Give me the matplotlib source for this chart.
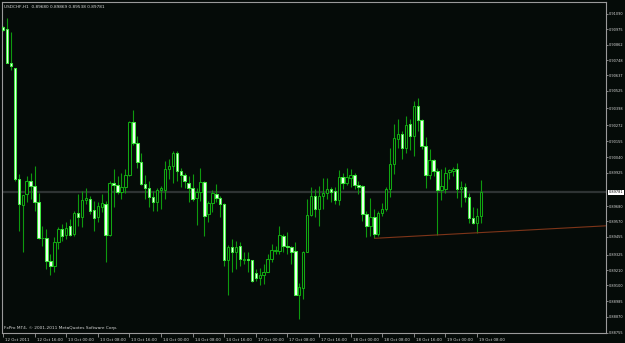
import numpy as np
import matplotlib
matplotlib.use('Agg')
import matplotlib.pyplot as plt
import matplotlib.transforms as mtransforms

# USDCHF H1 candles, 12 Oct 08:00 -> 19 Oct 09:00 (2011)
opens = [
    0.90991, 0.90976, 0.90728, 0.90692, 0.89878, 0.89688, 0.89768, 0.89866, 0.89829, 0.89714,
    0.89445, 0.89445, 0.89278, 0.89246, 0.89416, 0.89513, 0.89469, 0.89533, 0.89477, 0.89627,
    0.89603, 0.89724, 0.89732, 0.89654, 0.89598, 0.89678, 0.89695, 0.89469, 0.89849, 0.89836,
    0.89785, 0.89822, 0.89907, 0.90298, 0.90140, 0.90004, 0.89846, 0.89812, 0.89751, 0.89708,
    0.89800, 0.89800, 0.89956, 0.89975, 0.90072, 0.89938, 0.89907, 0.89853, 0.89817, 0.89737,
    0.89785, 0.89858, 0.89623, 0.89703, 0.89773, 0.89739, 0.89695, 0.89290, 0.89380, 0.89343,
    0.89392, 0.89290, 0.89295, 0.89283, 0.89190, 0.89156, 0.89178, 0.89202, 0.89295, 0.89355,
    0.89355, 0.89465, 0.89392, 0.89385, 0.89355, 0.89032, 0.89080, 0.89348, 0.89618, 0.89756,
    0.89659, 0.89756, 0.89776, 0.89805, 0.89788, 0.89727, 0.89897, 0.89853, 0.89883, 0.89909,
    0.89834, 0.89829, 0.89623, 0.89538, 0.89603, 0.89477, 0.89627, 0.89659, 0.89809, 0.89987,
    0.90174, 0.90206, 0.90109, 0.90279, 0.90194, 0.90412, 0.90308, 0.90121, 0.89909, 0.90019,
    0.89938, 0.89800, 0.89805, 0.89931, 0.89938, 0.89956, 0.89805, 0.89824, 0.89749, 0.89593,
    0.89557, 0.89606]
highs = [
    0.91000, 0.91059, 0.90959, 0.90692, 0.89914, 0.89761, 0.89902, 0.89926, 0.89975, 0.89780,
    0.89537, 0.89513, 0.89331, 0.89452, 0.89525, 0.89549, 0.89562, 0.89586, 0.89647, 0.89768,
    0.89793, 0.89817, 0.89756, 0.89720, 0.89708, 0.89768, 0.89720, 0.89866, 0.89955, 0.89902,
    0.89926, 0.89955, 0.90303, 0.90388, 0.90194, 0.90072, 0.89907, 0.89866, 0.89793, 0.89810,
    0.89829, 0.90011, 0.90029, 0.90084, 0.90084, 0.89963, 0.89921, 0.89902, 0.89914, 0.89817,
    0.89963, 0.89866, 0.89720, 0.89800, 0.89841, 0.89756, 0.89703, 0.89397, 0.89440, 0.89428,
    0.89416, 0.89343, 0.89348, 0.89287, 0.89222, 0.89227, 0.89258, 0.89331, 0.89404, 0.89392,
    0.89538, 0.89477, 0.89494, 0.89392, 0.89416, 0.89119, 0.89355, 0.89732, 0.89824, 0.89805,
    0.89829, 0.89883, 0.89883, 0.89824, 0.89824, 0.89946, 0.89921, 0.89963, 0.89951, 0.89926,
    0.89866, 0.89834, 0.89647, 0.89737, 0.89659, 0.89647, 0.89703, 0.89824, 0.90109, 0.90279,
    0.90320, 0.90230, 0.90344, 0.90320, 0.90449, 0.90473, 0.90315, 0.90189, 0.90096, 0.90028,
    0.89963, 0.89951, 0.89970, 0.89956, 0.89970, 0.89994, 0.89866, 0.89849, 0.89780, 0.89671,
    0.89664, 0.89869]
lows = [
    0.90965, 0.90725, 0.90680, 0.89866, 0.89501, 0.89343, 0.89708, 0.89732, 0.89647, 0.89440,
    0.89392, 0.89222, 0.89173, 0.89197, 0.89367, 0.89428, 0.89440, 0.89465, 0.89465, 0.89537,
    0.89525, 0.89695, 0.89622, 0.89501, 0.89562, 0.89635, 0.89270, 0.89465, 0.89671, 0.89768,
    0.89732, 0.89780, 0.89902, 0.90126, 0.89963, 0.89836, 0.89732, 0.89671, 0.89647, 0.89647,
    0.89659, 0.89732, 0.89878, 0.89853, 0.89866, 0.89824, 0.89817, 0.89708, 0.89720, 0.89542,
    0.89720, 0.89460, 0.89562, 0.89635, 0.89708, 0.89598, 0.89246, 0.89027, 0.89197, 0.89222,
    0.89246, 0.89258, 0.89197, 0.89125, 0.89129, 0.89105, 0.89112, 0.89197, 0.89270, 0.89331,
    0.89331, 0.89343, 0.89331, 0.89258, 0.89027, 0.88857, 0.89003, 0.89348, 0.89606, 0.89598,
    0.89533, 0.89659, 0.89732, 0.89712, 0.89695, 0.89691, 0.89809, 0.89834, 0.89824, 0.89809,
    0.89768, 0.89574, 0.89453, 0.89465, 0.89445, 0.89465, 0.89610, 0.89647, 0.89744, 0.89914,
    0.90109, 0.90023, 0.90072, 0.90092, 0.90048, 0.90230, 0.90096, 0.89817, 0.89878, 0.89902,
    0.89470, 0.89727, 0.89780, 0.89878, 0.89902, 0.89737, 0.89671, 0.89708, 0.89557, 0.89550,
    0.89484, 0.89557]
closes = [
    0.90971, 0.90728, 0.90704, 0.89878, 0.89695, 0.89761, 0.89866, 0.89829, 0.89712, 0.89445,
    0.89447, 0.89282, 0.89246, 0.89416, 0.89513, 0.89465, 0.89518, 0.89469, 0.89627, 0.89603,
    0.89724, 0.89739, 0.89647, 0.89591, 0.89683, 0.89703, 0.89469, 0.89853, 0.89836, 0.89785,
    0.89822, 0.89907, 0.90298, 0.90140, 0.90004, 0.89841, 0.89817, 0.89749, 0.89708, 0.89800,
    0.89810, 0.89951, 0.89975, 0.90072, 0.89938, 0.89907, 0.89866, 0.89817, 0.89732, 0.89785,
    0.89858, 0.89611, 0.89703, 0.89780, 0.89737, 0.89695, 0.89290, 0.89380, 0.89343, 0.89385,
    0.89295, 0.89295, 0.89283, 0.89129, 0.89156, 0.89178, 0.89202, 0.89295, 0.89360, 0.89358,
    0.89470, 0.89392, 0.89385, 0.89348, 0.89032, 0.89088, 0.89348, 0.89618, 0.89756, 0.89659,
    0.89756, 0.89776, 0.89805, 0.89785, 0.89727, 0.89897, 0.89853, 0.89897, 0.89909, 0.89834,
    0.89824, 0.89623, 0.89538, 0.89598, 0.89477, 0.89627, 0.89659, 0.89809, 0.89987, 0.90181,
    0.90206, 0.90109, 0.90274, 0.90194, 0.90412, 0.90308, 0.90121, 0.89909, 0.90019, 0.89938,
    0.89800, 0.89829, 0.89921, 0.89946, 0.89956, 0.89805, 0.89824, 0.89749, 0.89593, 0.89557,
    0.89606, 0.89781]

# price scale labels on the right
price_ticks = [0.91090, 0.90975, 0.90862, 0.90748, 0.90637, 0.90525, 0.90398, 0.90272,
               0.90155, 0.90040, 0.89925, 0.89680, 0.89570, 0.89455, 0.89325, 0.89210,
               0.89100, 0.88985, 0.88870, 0.88755]
current_price = 0.89781

# time scale labels (bar index, text)
time_idx = [0, 8, 16, 24, 32, 40, 48, 56, 64, 72, 80, 88, 96, 104, 112, 120]
time_labels = ['12 Oct 2011', '12 Oct 16:00', '13 Oct 00:00', '13 Oct 08:00', '13 Oct 16:00',
               '14 Oct 00:00', '14 Oct 08:00', '14 Oct 16:00', '17 Oct 00:00', '17 Oct 08:00',
               '17 Oct 16:00', '18 Oct 00:00', '18 Oct 08:00', '18 Oct 16:00', '19 Oct 00:00',
               '19 Oct 08:00']

# trendline anchors (bar indices, lows)
trend_a, trend_b = 94, 110

header = 'USDCHF,H1  0.89680 0.89869 0.89538 0.89781'
footer = 'FxPro MT4, \u00a9 2001-2011 MetaQuotes Software Corp.'

# ------------------------------------------------------------------
# colours
# ------------------------------------------------------------------
bg        = '#050b08'
wick_c    = '#0e9a0e'
bull_edge = '#12a812'
bear_face = '#f2fff2'
bear_edge = '#3fe83f'
frame_c   = '#9a9a9a'
text_c    = '#d8d8d8'

W, H = 625, 343
fig = plt.figure(figsize=(W / 100, H / 100), dpi=100)
fig.patch.set_facecolor(bg)
ax = fig.add_axes([2 / W, 10 / H, 604 / W, 331 / H])
ax.set_facecolor(bg)

o = np.array(opens); h = np.array(highs); l = np.array(lows); c = np.array(closes)
x = np.arange(len(o))
bull = c >= o

# current price line
ax.axhline(current_price, color='#2e3333', lw=1.6, zorder=1)

# wicks
ax.vlines(x, l, h, color=wick_c, lw=0.8, zorder=2)

# bodies
body_lo = np.minimum(o, c)
body_h = np.maximum(np.abs(c - o), 0.00002)
ax.bar(x[bull], body_h[bull], bottom=body_lo[bull], width=0.62,
       facecolor=bg, edgecolor=bull_edge, linewidth=0.75, zorder=3)
ax.bar(x[~bull], body_h[~bull], bottom=body_lo[~bull], width=0.62,
       facecolor=bear_face, edgecolor=bear_edge, linewidth=0.75, zorder=3)

# trendline (ray to the right)
x_end = 153
slope = (lows[trend_b] - lows[trend_a]) / (trend_b - trend_a)
ax.plot([trend_a, x_end], [lows[trend_a], lows[trend_a] + slope * (x_end - trend_a)],
        color='#7e3519', lw=0.8, zorder=4, solid_capstyle='butt')

ax.set_xlim(-0.25, 152.66)
ax.set_ylim(0.88752, 0.91175)

# axes frame
for sp in ax.spines.values():
    sp.set_color(frame_c)
    sp.set_linewidth(0.8)

# right price scale
ax.yaxis.tick_right()
ax.set_yticks(price_ticks)
ax.set_yticklabels([f'{v:.5f}' for v in price_ticks])
ax.tick_params(axis='y', colors=frame_c, length=1.6, width=0.6, pad=0.6,
               labelsize=2.55, labelcolor=text_c)

# bottom time scale
ax.set_xticks(time_idx)
ax.set_xticklabels(time_labels)
for lab in ax.get_xticklabels():
    lab.set_horizontalalignment('left')
ax.tick_params(axis='x', colors=frame_c, length=3, width=0.6, pad=0.5,
               labelsize=2.9, labelcolor=text_c)
trans = mtransforms.ScaledTranslation(2 / 100, 0, fig.dpi_scale_trans)
for lab in ax.get_xticklabels():
    lab.set_transform(lab.get_transform() + trans)

# current price tag
blend = mtransforms.blended_transform_factory(ax.transAxes, ax.transData)
ax.text(1.004, current_price, f'{current_price:.5f}', transform=blend, fontsize=2.55,
        color='black', va='center', ha='left', zorder=10, clip_on=False,
        bbox=dict(facecolor='white', edgecolor='none', pad=0.5))

fig.text(4 / W, 1 - 7 / H, header, color=text_c, fontsize=3.1, va='center', ha='left')
fig.text(4 / W, 1 - 328 / H, footer, color=text_c, fontsize=3.1, va='center', ha='left')

fig.savefig('out.png', dpi=100, facecolor=bg)
